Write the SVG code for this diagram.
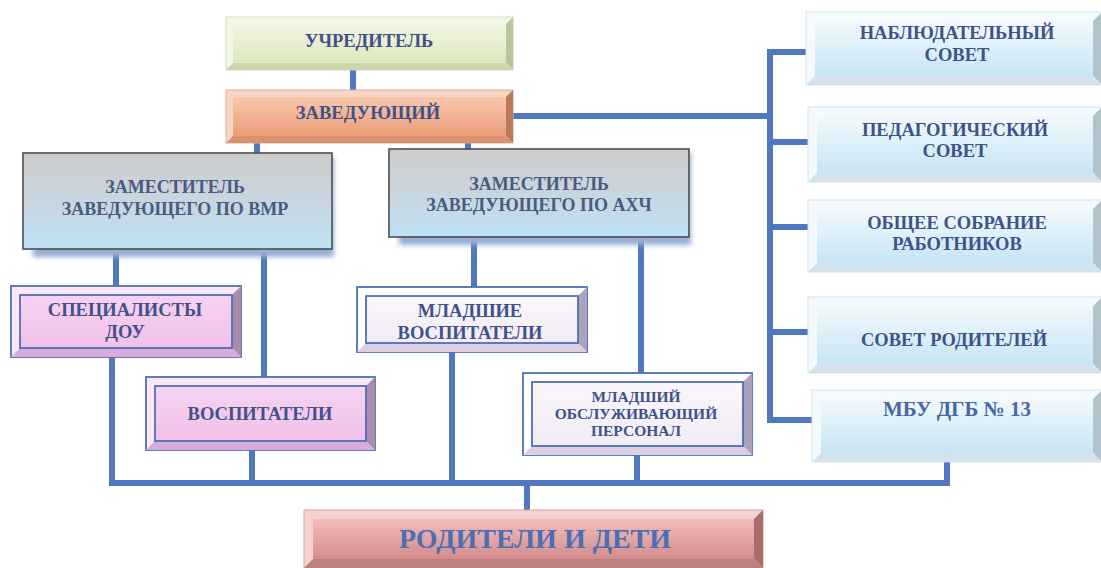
<svg xmlns="http://www.w3.org/2000/svg" width="1101" height="568" viewBox="0 0 1101 568">
<defs>
<linearGradient id="gUchr" x1="0" y1="0" x2="0" y2="1"><stop offset="0" stop-color="#f1f5e2"/><stop offset="1" stop-color="#dde8bd"/></linearGradient>
<linearGradient id="gZav" x1="0" y1="0" x2="0" y2="1"><stop offset="0" stop-color="#f7c7ad"/><stop offset="1" stop-color="#eb9d78"/></linearGradient>
<linearGradient id="gDep" x1="0" y1="0" x2="0" y2="1"><stop offset="0" stop-color="#cdcdcd"/><stop offset="0.45" stop-color="#c9d4dc"/><stop offset="1" stop-color="#bde2f6"/></linearGradient>
<linearGradient id="gPink" x1="0" y1="0" x2="0" y2="1"><stop offset="0" stop-color="#f7d2f1"/><stop offset="1" stop-color="#f1c0e9"/></linearGradient>
<linearGradient id="gWhite" x1="0" y1="0" x2="0" y2="1"><stop offset="0" stop-color="#faf6fb"/><stop offset="1" stop-color="#f2ecf5"/></linearGradient>
<linearGradient id="gSky" x1="0" y1="0" x2="0" y2="1"><stop offset="0" stop-color="#f2f9fc"/><stop offset="1" stop-color="#c6e5f5"/></linearGradient>
<linearGradient id="gRod" x1="0" y1="0" x2="0" y2="1"><stop offset="0" stop-color="#f1bcbc"/><stop offset="1" stop-color="#d48c8c"/></linearGradient>
<filter id="blur" x="-10%" y="-30%" width="120%" height="160%"><feGaussianBlur stdDeviation="2.5"/></filter>
</defs>
<style>
.con{stroke:#4f78c0;stroke-width:6;fill:none;stroke-linecap:butt;stroke-linejoin:miter}
text{font-family:"Liberation Serif","DejaVu Serif","Times New Roman",serif;font-weight:bold;text-anchor:middle;fill:#3f5289}
.t18{font-size:18.5px}
.t15{font-size:15.5px}
.dep{font-size:18px;fill:#4b5a80}
.big{font-size:28px;fill:#4a6fb5}
.mbu{font-size:21px;fill:#4a67a8}
.uchr-o{fill:#f3f7e6;stroke:#d4dcbf;stroke-width:1}
.uchr-r{fill:#b9c59c}.uchr-b{fill:#cad6ab}.uchr-i{fill:url(#gUchr)}
.zav-o{fill:#f8d6c4;stroke:#e0b09a;stroke-width:1}
.zav-r{fill:#b97a5c}.zav-b{fill:#d99373}.zav-i{fill:url(#gZav)}
.dep-r{fill:url(#gDep);stroke:#4e4e4e;stroke-width:1.6}
.shadow{fill:#97aed4;filter:url(#blur)}
.pk-o{fill:#fbe7f8;stroke:#4d6fb5;stroke-width:1.8}
.pk-r{fill:#a98cae}.pk-b{fill:#d9abd9}.pk-i{fill:url(#gPink);stroke:#4d6fb5;stroke-width:1.8}
.wh-o{fill:#ffffff;stroke:#4d6fb5;stroke-width:1.8}
.wh-r{fill:#aaa2ba}.wh-b{fill:#dccfe3}.wh-i{fill:url(#gWhite);stroke:#4d6fb5;stroke-width:1.8}
.sk-o{fill:#f4fafd;stroke:#cfe3ec;stroke-width:1}
.sk-r{fill:#b3c3cc}.sk-b{fill:#d2e3ec}.sk-i{fill:url(#gSky)}
.rd-o{fill:#f6d2d2;stroke:#d8a0a0;stroke-width:1}
.rd-r{fill:#a86c6c}.rd-b{fill:#bc8080}.rd-i{fill:url(#gRod)}
</style>
<rect width="1101" height="568" fill="#ffffff"/>

<g id="connectors">
<line class="con" x1="353" y1="70" x2="353" y2="90"/>
<line class="con" x1="513" y1="116" x2="770" y2="116"/>
<line class="con" x1="770" y1="49" x2="770" y2="423"/>
<line class="con" x1="767" y1="52" x2="806" y2="52"/>
<line class="con" x1="767" y1="142" x2="808" y2="142"/>
<line class="con" x1="767" y1="227" x2="808" y2="227"/>
<line class="con" x1="767" y1="332" x2="808" y2="332"/>
<line class="con" x1="767" y1="420" x2="812" y2="420"/>
<line class="con" x1="257" y1="143" x2="257" y2="153"/>
<line class="con" x1="468" y1="143" x2="468" y2="149"/>
<line class="con" x1="116" y1="249" x2="116" y2="286"/>
<line class="con" x1="264" y1="249" x2="264" y2="377"/>
<line class="con" x1="474" y1="237" x2="474" y2="287"/>
<line class="con" x1="641" y1="237" x2="641" y2="373"/>
<path class="con" d="M112 357 V483 H947 V462"/>
<line class="con" x1="252" y1="450" x2="252" y2="483"/>
<line class="con" x1="452" y1="352" x2="452" y2="483"/>
<line class="con" x1="637" y1="455" x2="637" y2="483"/>
<line class="con" x1="527" y1="483" x2="527" y2="510"/>
</g>

<g id="uchreditel">
<rect class="uchr-o" x="226" y="17" width="287" height="53"/>
<polygon class="uchr-r" points="513,17 513,70 506,63 506,24"/>
<polygon class="uchr-b" points="226,70 233,63 506,63 513,70"/>
<rect class="uchr-i" x="233" y="24" width="273" height="39"/>
<text class="t18" x="369" y="47">УЧРЕДИТЕЛЬ</text>
</g>

<g id="zaveduyushchiy">
<rect class="zav-o" x="226" y="90" width="287" height="53"/>
<polygon class="zav-r" points="513,90 513,143 506,136 506,97"/>
<polygon class="zav-b" points="226,143 233,136 506,136 513,143"/>
<rect class="zav-i" x="233" y="97" width="273" height="39"/>
<text class="t18" x="368" y="119">ЗАВЕДУЮЩИЙ</text>
</g>

<g id="zam-vmr">
<rect class="shadow" x="33" y="157" width="301" height="100"/>
<rect class="dep-r" x="23" y="153" width="309" height="96"/>
<text class="dep" x="175" y="193">ЗАМЕСТИТЕЛЬ</text>
<text class="dep" x="175" y="215">ЗАВЕДУЮЩЕГО ПО ВМР</text>
</g>

<g id="zam-ahch">
<rect class="shadow" x="399" y="153" width="292" height="92"/>
<rect class="dep-r" x="389" y="149" width="300" height="88"/>
<text class="dep" x="539" y="190">ЗАМЕСТИТЕЛЬ</text>
<text class="dep" x="539" y="211">ЗАВЕДУЮЩЕГО ПО АХЧ</text>
</g>

<g id="specialisty">
<rect class="pk-o" x="11" y="286" width="230" height="71"/>
<polygon class="pk-r" points="241,286 241,357 232,348 232,295"/>
<polygon class="pk-b" points="11,357 20,348 232,348 241,357"/>
<rect class="pk-i" x="20" y="295" width="212" height="53"/>
<text class="t18" x="125" y="316">СПЕЦИАЛИСТЫ</text>
<text class="t18" x="125" y="338">ДОУ</text>
</g>

<g id="vospitateli">
<rect class="pk-o" x="146" y="377" width="229" height="73"/>
<polygon class="pk-r" points="375,377 375,450 366,441 366,386"/>
<polygon class="pk-b" points="146,450 155,441 366,441 375,450"/>
<rect class="pk-i" x="155" y="386" width="211" height="55"/>
<text class="t18" x="260" y="420">ВОСПИТАТЕЛИ</text>
</g>

<g id="mladshie-vospitateli">
<rect class="wh-o" x="357" y="287" width="230" height="65"/>
<polygon class="wh-r" points="587,287 587,352 578,343 578,296"/>
<polygon class="wh-b" points="357,352 366,343 578,343 587,352"/>
<rect class="wh-i" x="366" y="296" width="212" height="47"/>
<text class="t18" x="470" y="317">МЛАДШИЕ</text>
<text class="t18" x="470" y="339">ВОСПИТАТЕЛИ</text>
</g>

<g id="mladshiy-personal">
<rect class="wh-o" x="523" y="373" width="229" height="82"/>
<polygon class="wh-r" points="752,373 752,455 743,446 743,382"/>
<polygon class="wh-b" points="523,455 532,446 743,446 752,455"/>
<rect class="wh-i" x="532" y="382" width="211" height="64"/>
<text class="t15" x="636" y="402">МЛАДШИЙ</text>
<text class="t15" x="636" y="419">ОБСЛУЖИВАЮЩИЙ</text>
<text class="t15" x="636" y="436">ПЕРСОНАЛ</text>
</g>

<g id="nablyudatelnyy-sovet">
<rect class="sk-o" x="806" y="12" width="296" height="73"/>
<polygon class="sk-r" points="1102,12 1102,85 1093,76 1093,21"/>
<polygon class="sk-b" points="806,85 815,76 1093,76 1102,85"/>
<rect class="sk-i" x="815" y="21" width="278" height="55"/>
<text class="t18" x="957" y="39">НАБЛЮДАТЕЛЬНЫЙ</text>
<text class="t18" x="957" y="61">СОВЕТ</text>
</g>

<g id="pedagogicheskiy-sovet">
<rect class="sk-o" x="808" y="107" width="294" height="75"/>
<polygon class="sk-r" points="1102,107 1102,182 1093,173 1093,116"/>
<polygon class="sk-b" points="808,182 817,173 1093,173 1102,182"/>
<rect class="sk-i" x="817" y="116" width="276" height="57"/>
<text class="t18" x="955" y="136">ПЕДАГОГИЧЕСКИЙ</text>
<text class="t18" x="955" y="157">СОВЕТ</text>
</g>

<g id="obshchee-sobranie">
<rect class="sk-o" x="808" y="200" width="294" height="72"/>
<polygon class="sk-r" points="1102,200 1102,272 1093,263 1093,209"/>
<polygon class="sk-b" points="808,272 817,263 1093,263 1102,272"/>
<rect class="sk-i" x="817" y="209" width="276" height="54"/>
<text class="t18" x="957" y="229">ОБЩЕЕ СОБРАНИЕ</text>
<text class="t18" x="957" y="250">РАБОТНИКОВ</text>
</g>

<g id="sovet-roditeley">
<rect class="sk-o" x="808" y="297" width="294" height="76"/>
<polygon class="sk-r" points="1102,297 1102,373 1093,364 1093,306"/>
<polygon class="sk-b" points="808,373 817,364 1093,364 1102,373"/>
<rect class="sk-i" x="817" y="306" width="276" height="58"/>
<text class="t18" x="954" y="346">СОВЕТ РОДИТЕЛЕЙ</text>
</g>

<g id="mbu-dgb">
<rect class="sk-o" x="812" y="390" width="290" height="72"/>
<polygon class="sk-r" points="1102,390 1102,462 1093,453 1093,399"/>
<polygon class="sk-b" points="812,462 821,453 1093,453 1102,462"/>
<rect class="sk-i" x="821" y="399" width="272" height="54"/>
<text class="mbu" x="957" y="416">МБУ ДГБ № 13</text>
</g>

<g id="roditeli-i-deti">
<rect class="rd-o" x="304" y="510" width="459" height="58"/>
<polygon class="rd-r" points="763,510 763,568 754,559 754,519"/>
<polygon class="rd-b" points="304,568 313,559 754,559 763,568"/>
<rect class="rd-i" x="313" y="519" width="441" height="40"/>
<text class="big" x="535" y="548">РОДИТЕЛИ И ДЕТИ</text>
</g>
</svg>
